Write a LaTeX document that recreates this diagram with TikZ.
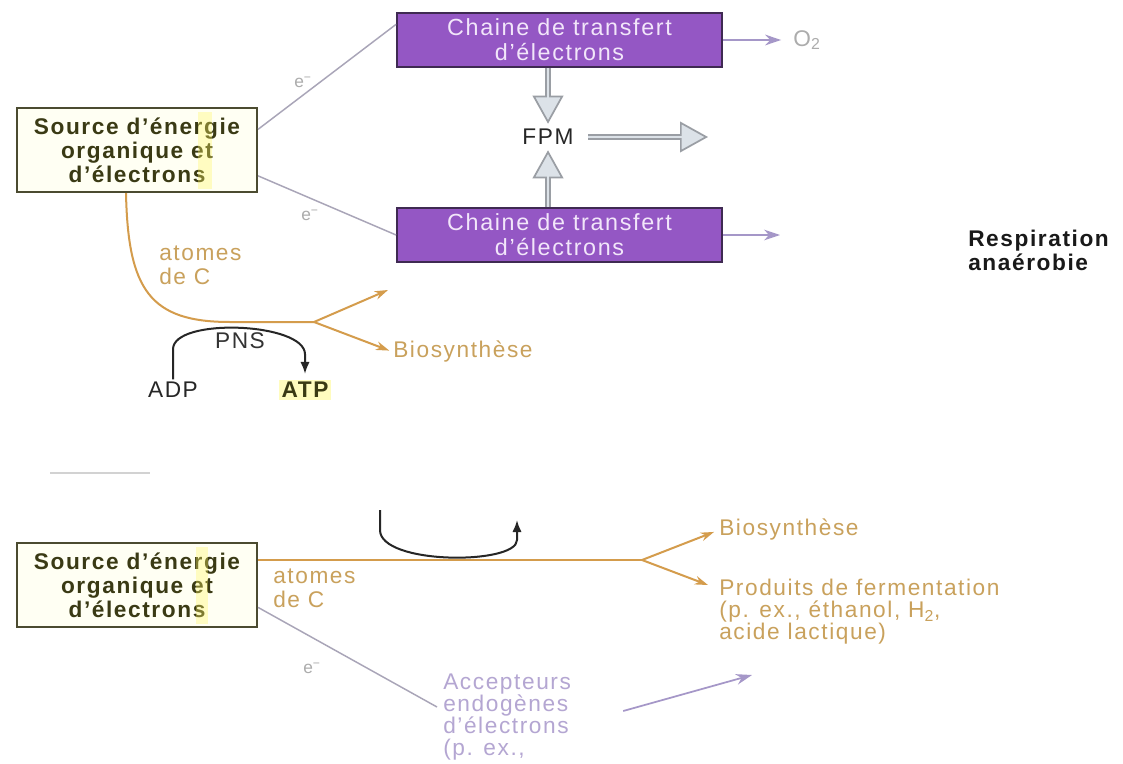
\documentclass[tikz,border=0pt]{standalone}
\usepackage{fontspec}
\setmainfont{Liberation Sans}[LetterSpace=7]
\usetikzlibrary{arrows.meta,calc}
\definecolor{purp}{HTML}{9457C4}
\definecolor{purpdark}{HTML}{3F2A52}
\definecolor{purptext}{HTML}{F2E6FA}
\definecolor{lav}{HTML}{A597C8}
\definecolor{lavtext}{HTML}{B4A6D2}
\definecolor{elec}{HTML}{A9A5B8}
\definecolor{orng}{HTML}{D49C4C}
\definecolor{orngtext}{HTML}{C9A15C}
\definecolor{olive}{HTML}{3A3A14}
\definecolor{olivebox}{HTML}{4B4B30}
\definecolor{boxfill}{HTML}{FFFFF3}
\definecolor{fatfill}{HTML}{DCE2E8}
\definecolor{fatdraw}{HTML}{9A9EA4}
\tikzset{
 base/.style={font=\fontsize{17}{18}\selectfont, inner sep=0pt},
 srcbox/.style={draw=olivebox, line width=1.6pt, fill=boxfill, minimum width=180pt, minimum height=63pt, align=center, font=\fontsize{17}{18}\selectfont\bfseries, text=olive, inner sep=0pt},
 chainbox/.style={draw=purpdark, line width=1.4pt, fill=purp, minimum width=243.75pt, minimum height=40.5pt, align=center, font=\fontsize{17.5}{18.75}\selectfont, text=purptext, inner sep=0pt},
 eline/.style={draw=elec, line width=1.1pt},
 elabel/.style={text=gray!65, font=\fontsize{13}{14}\selectfont, inner sep=0pt},
 lavarrow/.style={draw=lav, line width=1.3pt, -{Stealth[length=12pt,width=8pt]}},
 orngline/.style={draw=orng, line width=1.5pt},
 orngarrow/.style={orngline, -{Stealth[length=10pt,width=6.5pt]}},
 orngtxt/.style={text=orngtext, font=\fontsize{17}{18}\selectfont, align=left, inner sep=0pt},
 fatarrow/.style={draw=fatdraw, line width=5pt, -{Triangle[length=21pt,width=23pt,fill=fatfill,line width=1.3pt]},
   postaction={draw=fatfill, line width=2pt, -, shorten >=19pt}},
 blackarc/.style={draw=black!85, line width=1.5pt, -{Latex[length=9pt,width=7pt]}},
}
\begin{document}
\begin{tikzpicture}[x=0.75pt,y=-0.75pt]
\fill[white] (0,0) rectangle (1123,763);
\useasboundingbox (0,0) rectangle (1123,763);

% ---------- top part ----------
\node[srcbox] (src1) at (137,150) {Source d’énergie\\organique et\\d’électrons};
\fill[yellow!60, opacity=0.35] (198,112) rectangle (212,189);
\node[chainbox] (chain1) at (559.5,40) {Chaine de transfert\\d’électrons};
\node[chainbox] (chain2) at (559.5,235) {Chaine de transfert\\d’électrons};
\node[base, minimum height=19.5pt, inner xsep=11pt, text=black!85] (fpm) at (548,137) {FPM};
\coordinate (fpmout) at (708,137);
\draw[fatarrow] (chain1.south -| fpm) -- (fpm.north);
\draw[fatarrow] (chain2.north -| fpm) -- (fpm.south);
\draw[fatarrow] (fpm.east) -- (fpmout);

\node[base, text=gray!65] (o2) at (807,40) {O\textsubscript{2}};
\draw[lavarrow, shorten >=9pt] (chain1.east) -- (chain1.east -| o2.west);
\coordinate (resp2) at (780,235);
\draw[lavarrow] (chain2.east) -- (resp2);

\node[base, font=\fontsize{17}{18}\selectfont\bfseries, align=left, anchor=west, text=black!90] (resp) at (968,250) {Respiration\\anaérobie};

\draw[eline] ($(src1.north east)!0.26!(src1.south east)$) -- ($(chain1.north west)!0.22!(chain1.south west)$);
\node[elabel] (e1) at (303,82) {e\textsuperscript{−}};
\draw[eline] ($(src1.north east)!0.8!(src1.south east)$) -- (chain2.west);
\node[elabel] (e2) at (310,215) {e\textsuperscript{−}};

\coordinate (fork1) at (314,322);
\coordinate (up1) at (388,290);
\draw[orngline] ($(src1.south)+(-11,0)$) .. controls (128,290) and (150,322) .. (230,322) -- (fork1);
\draw[orngarrow] (fork1) -- (up1);
\node[orngtxt, anchor=west] (bio1) at (393,352) {Biosynthèse};
\draw[orngarrow, shorten >=3pt] (fork1) -- (bio1.west);
\node[orngtxt, anchor=west] (atomes1) at (159,265) {atomes\\de C};

\node[base, text=black!80] (pns) at (240,341) {PNS};
\node[base, inner sep=2pt, text=black!85] (adp) at (173,390) {ADP};
\node[base, inner sep=2pt, text=olive, font=\fontsize{17}{18}\selectfont\bfseries, fill=yellow!25] (atp) at (305,390) {ATP};
\draw[blackarc, shorten >=4pt] (adp.north) -- ++(0,-30) .. controls +(0,-32) and +(0,-32) .. ($(atp.north)+(0,-25)$) -- (atp.north);

% ---------- bottom part ----------
\draw[gray!35, line width=1pt] (50,473) -- (150,473);
\node[srcbox] (src2) at (137,585) {Source d’énergie\\organique et\\d’électrons};
\fill[yellow!60, opacity=0.35] (196,547) rectangle (208,624);
\coordinate (fork2) at (642,560);
\draw[orngline] (src2.east |- fork2) -- (fork2);
\node[orngtxt, anchor=west] (bio2) at (719,530) {Biosynthèse};
\draw[orngarrow, shorten >=4pt] (fork2) -- (bio2.west);
\node[orngtxt, anchor=west, font=\fontsize{17}{16.5}\selectfont] (prod) at (719,612) {Produits de fermentation\\(p. ex., éthanol, H\textsubscript{2},\\acide lactique)};
\coordinate (prodin) at (708,585);
\draw[orngarrow] (fork2) -- (prodin);
\node[orngtxt, anchor=west] (atomes2) at (273,588) {atomes\\de C};

\coordinate (arcL) at (380,510);
\coordinate (arcR) at (517,520);
\draw[blackarc] (arcL) -- (380,530) .. controls (380,565) and (517,565) .. (517,540) -- (arcR);

\node[base, text=lavtext, align=left, anchor=west, font=\fontsize{17}{16.5}\selectfont] (acc) at (443,717) {Accepteurs\\endogènes\\d’électrons\\(p. ex.,};
\draw[eline] ($(src2.north east)!0.76!(src2.south east)$) -- ($(acc.west)+(-6,-10)$);
\node[elabel] (e3) at (312,668) {e\textsuperscript{−}};
\coordinate (accout) at (752,675);
\draw[lavarrow] ($(acc.east)+(52,-6)$) -- (accout);
\end{tikzpicture}
\end{document}
